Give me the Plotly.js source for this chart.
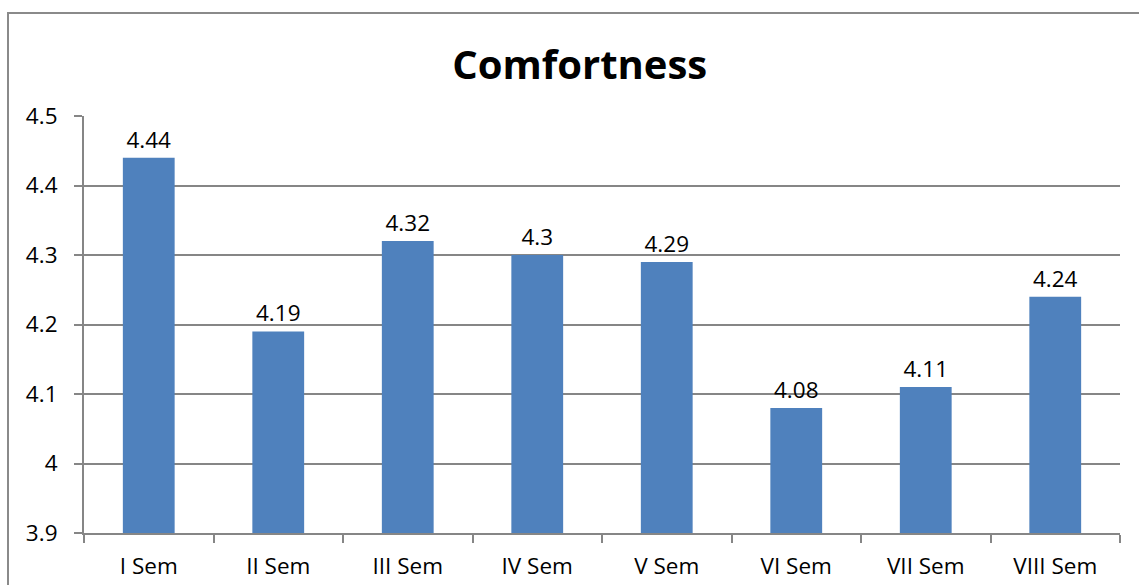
<!DOCTYPE html>
<html>
<head>
<meta charset="utf-8">
<script src="https://cdn.plot.ly/plotly-3.0.1.min.js"></script>
<style>
html,body{margin:0;padding:0;background:#fff;}
#chart{width:1139px;height:585px;}
</style>
</head>
<body>
<div id="chart"></div>
<script>
const categories = ["I Sem","II Sem","III Sem","IV Sem","V Sem","VI Sem","VII Sem","VIII Sem"];
const values = [4.44, 4.19, 4.32, 4.3, 4.29, 4.08, 4.11, 4.24];
const valueLabels = ["4.44","4.19","4.32","4.3","4.29","4.08","4.11","4.24"];
const yTicks = [3.9, 4, 4.1, 4.2, 4.3, 4.4, 4.5];
const yTickLabels = ["3.9","4","4.1","4.2","4.3","4.4","4.5"];
const axisBase = 3.9;

const font = "Open Sans, Liberation Sans, sans-serif";

const trace = {
  type: "bar",
  x: categories,
  y: values.map(v => v - axisBase),
  base: axisBase,
  marker: {color: "#4F81BD"},
  text: valueLabels,
  textposition: "outside",
  textfont: {family: font, size: 22.5, color: "#000"},
  cliponaxis: false,
  hoverinfo: "none"
};

const layout = {
  width: 1139,
  height: 585,
  margin: {l: 84, r: 19, t: 116, b: 52},
  paper_bgcolor: "#fff",
  plot_bgcolor: "#fff",
  showlegend: false,
  bargap: 0.6,
  title: {
    text: "<b>Comfortness</b>",
    font: {family: font, size: 40, color: "#000"},
    x: 0.509, xanchor: "center",
    y: 0.889, yanchor: "middle"
  },
  xaxis: {
    type: "category",
    showline: true,
    linecolor: "#868686",
    linewidth: 2,
    ticks: "outside",
    ticklen: 8,
    tickcolor: "#868686",
    tickwidth: 2,
    tickson: "boundaries",
    tickfont: {family: font, size: 22.5, color: "#000"},
    ticklabelstandoff: 12,
    showgrid: false,
    zeroline: false,
    fixedrange: true
  },
  yaxis: {
    range: [3.9, 4.5],
    tickmode: "array",
    tickvals: yTicks,
    ticktext: yTickLabels,
    showline: true,
    linecolor: "#868686",
    linewidth: 2,
    ticks: "outside",
    ticklen: 8,
    tickcolor: "#868686",
    tickwidth: 2,
    tickfont: {family: font, size: 22.5, color: "#000"},
    ticklabelstandoff: 12,
    showgrid: true,
    gridcolor: "#868686",
    gridwidth: 2,
    zeroline: false,
    fixedrange: true
  },
  shapes: [{
    type: "rect",
    xref: "paper", yref: "paper",
    x0: (8 - 84) / 1036, x1: 1.2,
    y0: -0.3, y1: 1 + (116 - 13) / 417,
    line: {color: "#8a8a8a", width: 2},
    fillcolor: "rgba(0,0,0,0)",
    layer: "below"
  }]
};

Plotly.newPlot("chart", [trace], layout, {displayModeBar: false, staticPlot: true});
</script>
</body>
</html>
